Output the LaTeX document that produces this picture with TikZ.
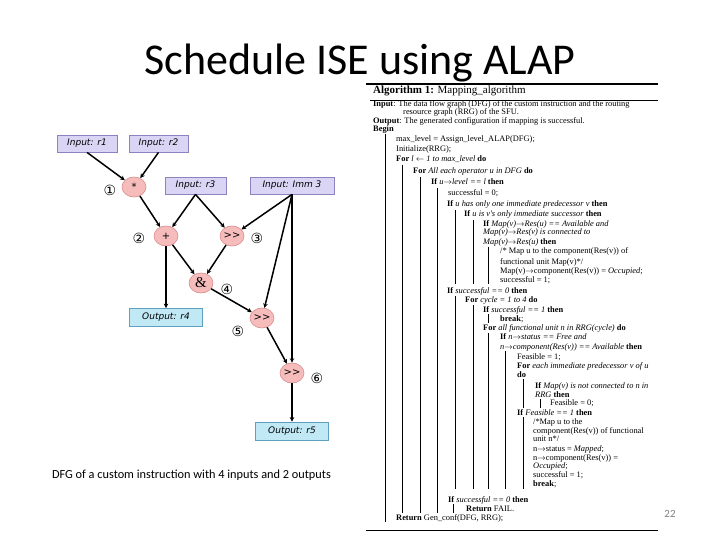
\documentclass[tikz,border=0pt]{standalone}
\usepackage{fontspec}
\setmainfont{Carlito}
\newfontfamily\dfgfont{DejaVu Sans}
\newfontfamily\algfont{Liberation Serif}
\usetikzlibrary{arrows.meta,shapes.geometric}

\definecolor{inlav}{RGB}{219,213,245}
\definecolor{inedge}{RGB}{140,130,190}
\definecolor{outcyan}{RGB}{192,232,245}
\definecolor{outedge}{RGB}{95,160,190}
\definecolor{oppink}{RGB}{246,188,188}
\definecolor{opedge}{RGB}{215,140,140}

\newcommand{\toarr}{$\rightarrow$}
\newcommand{\fromarr}{$\leftarrow$}

\tikzset{
    inbox/.style={draw=inedge, fill=inlav, line width=0.8pt, minimum height=17pt, inner sep=1pt,
        font=\dfgfont\itshape\fontsize{9}{10}\selectfont},
    outbox/.style={draw=outedge, fill=outcyan, line width=0.8pt, minimum height=18pt, minimum width=73pt,
        inner sep=1pt, font=\dfgfont\itshape\fontsize{9}{10}\selectfont},
    opnode/.style={ellipse, draw=opedge, fill=oppink, line width=0.6pt, minimum width=24pt,
        minimum height=20pt, inner sep=0pt, font=\dfgfont\fontsize{10}{10}\selectfont},
    stepnum/.style={inner sep=0pt, font=\dfgfont\fontsize{14}{14}\selectfont},
    flow/.style={line width=1.5pt, -{Stealth[length=4.5pt,width=4.5pt]}},
    algline/.style={anchor=west, inner sep=0pt, text height=5pt, text depth=1pt,
        font=\algfont\fontsize{8.4}{9}\selectfont},
    algbar/.style={line width=0.6pt},
}

\begin{document}
\begin{tikzpicture}[x=1pt, y=-1pt]
    \useasboundingbox (0,0) rectangle (720,540);

    \node[anchor=base, font=\fontsize{44}{44}\selectfont] (title) at (360,75) {Schedule ISE using ALAP};

    % data flow graph
    \node[inbox, minimum width=60pt] (r1) at (87,143.5) {Input: r1};
    \node[inbox, minimum width=59pt] (r2) at (158.5,143.5) {Input: r2};
    \node[inbox, minimum width=61pt] (r3) at (195.5,185.5) {Input: r3};
    \node[inbox, minimum width=84pt] (imm) at (292,185.5) {Input: Imm 3};

    \node[opnode] (mul) at (134,187) {*};
    \node[opnode] (add) at (166,236) {+};
    \node[opnode] (shra) at (232,236) {>>};
    \node[opnode, font=\algfont\fontsize{15}{15}\selectfont] (and) at (201,283) {\&};
    \node[opnode] (shrb) at (262,318) {>>};
    \node[opnode] (shrc) at (292,373) {>>};

    \node[outbox] (r4) at (166,317.5) {Output: r4};
    \node[outbox] (r5) at (292,431) {Output: r5};

    \node[stepnum] (n1) at (110,190) {①};
    \node[stepnum] (n2) at (139,238) {②};
    \node[stepnum] (n3) at (257,238) {③};
    \node[stepnum] (n4) at (227,289) {④};
    \node[stepnum] (n5) at (238,331) {⑤};
    \node[stepnum] (n6) at (317,378) {⑥};

    \draw[flow] (r1.south) -- (mul);
    \draw[flow] (r2.south) -- (mul);
    \draw[flow] (mul) -- (add);
    \draw[flow] (r3.south) -- (add);
    \draw[flow] (r3.south) -- (shra);
    \draw[flow] (imm.south) -- (shra);
    \draw[flow] (imm.south) -- (shrb);
    \draw[flow] (imm.south) -- (shrc);
    \draw[flow] (add) -- (r4);
    \draw[flow] (add) -- (and);
    \draw[flow] (shra) -- (and);
    \draw[flow] (and) -- (shrb);
    \draw[flow] (shrb) -- (shrc);
    \draw[flow] (shrc) -- (r5);

    \node[font=\fontsize{12.3}{13}\selectfont] (caption) at (191.5,475)
        {DFG of a custom instruction with 4 inputs and 2 outputs};

    % algorithm
    \draw[line width=1.2pt] (366,84) -- (658,84);
    \draw[line width=0.7pt] (370,100) -- (658,100);
    \draw[line width=0.7pt] (366,530) -- (658,530);

    \node[algline, font=\algfont\fontsize{11}{11}\selectfont] (a0) at (373,92) {\textbf{Algorithm 1:} Mapping\_algorithm};
    \node[algline] (a1) at (373,105) {\textbf{Input}: The data flow graph (DFG) of the custom instruction and the routing};
    \node[algline] (a2) at (403,113) {resource graph (RRG) of the SFU.};
    \node[algline] (a3) at (373,122) {\textbf{Output}: The generated configuration if mapping is successful.};
    \node[algline] (a4) at (373,130) {\textbf{Begin}};
    \node[algline] (a5) at (396,140) {max\_level = Assign\_level\_ALAP(DFG);};
    \node[algline] (a6) at (396,150) {Initialize(RRG);};
    \node[algline] (a7) at (396,160) {\textbf{For} \textit{l} \fromarr{} \textit{1 to max\_level} \textbf{do}};
    \node[algline] (a8) at (413,172) {\textbf{For} \textit{All each operator u in DFG} \textbf{do}};
    \node[algline] (a9) at (431,183) {\textbf{If} \textit{u\toarr{}level == l} \textbf{then}};
    \node[algline] (a10) at (448,194) {successful = 0;};
    \node[algline] (a11) at (447,205) {\textbf{If} \textit{u has only one immediate predecessor v} \textbf{then}};
    \node[algline] (a12) at (464,215) {\textbf{If} \textit{u is v's only immediate successor} \textbf{then}};
    \node[algline] (a13) at (483,224) {\textbf{If} \textit{Map(v)\toarr{}Res(u) == Available and}};
    \node[algline] (a14) at (483,233) {\textit{Map(v)\toarr{}Res(v) is connected to}};
    \node[algline] (a15) at (483,242) {\textit{Map(v)\toarr{}Res(u)} \textbf{then}};
    \node[algline] (a16) at (500,252) {/* Map u to the component(Res(v)) of};
    \node[algline] (a17) at (500,262) {functional unit Map(v)*/};
    \node[algline] (a18) at (500,271) {Map(v)\toarr{}component(Res(v)) = \textit{Occupied};};
    \node[algline] (a19) at (500,280) {successful = 1;};
    \node[algline] (a20) at (447,291) {\textbf{If} \textit{successful == 0} \textbf{then}};
    \node[algline] (a21) at (465,300) {\textbf{For} \textit{cycle = 1 to 4} \textbf{do}};
    \node[algline] (a22) at (483,310) {\textbf{If} \textit{successful == 1} \textbf{then}};
    \node[algline] (a23) at (500,319) {\textbf{break};};
    \node[algline] (a24) at (483,328) {\textbf{For} \textit{all functional unit n in RRG(cycle)} \textbf{do}};
    \node[algline] (a25) at (500,337) {\textbf{If} \textit{n\toarr{}status == Free and}};
    \node[algline] (a26) at (500,347) {\textit{n\toarr{}component(Res(v)) == Available} \textbf{then}};
    \node[algline] (a27) at (517,357) {Feasible = 1;};
    \node[algline] (a28) at (517,366) {\textbf{For} \textit{each immediate predecessor v of u}};
    \node[algline] (a29) at (517,375) {\textbf{do}};
    \node[algline] (a30) at (535,386) {\textbf{If} \textit{Map(v) is not connected to n in}};
    \node[algline] (a31) at (535,395) {\textit{RRG} \textbf{then}};
    \node[algline] (a32) at (550,403) {Feasible = 0;};
    \node[algline] (a33) at (517,413) {\textbf{If} \textit{Feasible == 1} \textbf{then}};
    \node[algline] (a34) at (533,422) {/*Map u to the};
    \node[algline] (a35) at (533,431) {component(Res(v)) of functional};
    \node[algline] (a36) at (533,439.5) {unit n*/};
    \node[algline] (a37) at (533,449) {n\toarr{}status = \textit{Mapped};};
    \node[algline] (a38) at (533,458) {n\toarr{}component(Res(v)) =};
    \node[algline] (a39) at (533,466.5) {\textit{Occupied};};
    \node[algline] (a40) at (533,475) {successful = 1;};
    \node[algline] (a41) at (533,484) {\textbf{break};};
    \node[algline] (a42) at (448,500) {\textbf{If} \textit{successful == 0} \textbf{then}};
    \node[algline] (a43) at (466,509) {\textbf{Return} FAIL.};
    \node[algline] (a44) at (396,518) {\textbf{Return} Gen\_conf(DFG, RRG);};

    \draw[algbar] (385,134) -- (385,522) (402,165) -- (402,513) (420,177) -- (420,513)
        (437,188) -- (437,513) (455,210) -- (455,284) (473,220) -- (473,284)
        (488,247) -- (488,284) (455,296) -- (455,489) (473,305) -- (473,489)
        (488,314) -- (488,323) (488,333) -- (488,489) (505,351) -- (505,489)
        (523,379) -- (523,408) (540,399) -- (540,408) (523,417) -- (523,489)
        (453,504) -- (453,513);

    \node[text=gray, font=\fontsize{11}{11}\selectfont] (page) at (670,514) {22};
\end{tikzpicture}
\end{document}
